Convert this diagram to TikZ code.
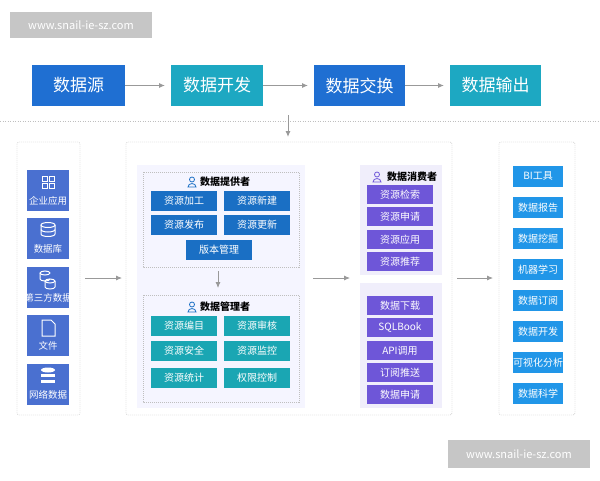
\documentclass[tikz,border=0pt]{standalone}
\usepackage{fontspec}
\setmainfont{Noto Sans CJK SC}
\begin{document}
\begin{tikzpicture}[x=1pt,y=-1pt,
 ar/.style={-{Latex[length=6pt,width=5pt]},gray!80,line width=1pt},
 panel/.style={draw=gray!50,dash pattern=on 1pt off 1pt,rounded corners=2pt},
 top/.style={text=white,font=\fontsize{17}{17}\selectfont,inner sep=0},
 bx/.style={text=white,font=\fontsize{10}{10}\selectfont,inner sep=0},
 hd/.style={font=\fontsize{10}{10}\selectfont\bfseries\itshape,inner sep=0}]
\usetikzlibrary{arrows.meta}
\definecolor{dblue}{HTML}{1F6FD2}\definecolor{teal1}{HTML}{1DA8C2}
\definecolor{prov}{HTML}{1A6FC4}\definecolor{mgr}{HTML}{1AA6B3}
\definecolor{cons}{HTML}{6E56D8}\definecolor{outc}{HTML}{2196E8}
\definecolor{icn}{HTML}{4A70D0}
\useasboundingbox (0,0) rectangle (600,480);
\fill[white] (0,0) rectangle (600,480);
% watermarks
\fill[gray!45] (10,12) rectangle (152,38);
\node[text=white,font=\fontsize{11}{11}\selectfont] (w1) at (81,25) {www.snail-ie-sz.com};
\fill[gray!45] (448,440) rectangle (590,468);
\node[text=white,font=\fontsize{11}{11}\selectfont] (w2) at (519,454) {www.snail-ie-sz.com};
% top row
\fill[dblue] (32,65) rectangle (125,106); \node[top] (t1) at (78.5,85.5) {数据源};
\fill[teal1] (171,65) rectangle (263,106); \node[top] (t2) at (217,85.5) {数据开发};
\fill[dblue] (314,65) rectangle (405,106); \node[top] (t3) at (359.5,85.5) {数据交换};
\fill[teal1] (450,65) rectangle (541,106); \node[top] (t4) at (495.5,85.5) {数据输出};
\coordinate (a1) at (125,85.5);\coordinate (b1) at (165,85.5);
\coordinate (a2) at (263,85.5);\coordinate (b2) at (308,85.5);
\coordinate (a3) at (405,85.5);\coordinate (b3) at (444,85.5);
\draw[ar] (a1)--(b1); \draw[ar] (a2)--(b2); \draw[ar] (a3)--(b3);
\draw[gray!50,dash pattern=on 1pt off 1.5pt] (0,121)--(600,121);
\coordinate (d1) at (288,115);\coordinate (d2) at (288,137);
\draw[ar] (d1)--(d2);
% panels
\draw[panel] (17,142) rectangle (80,415);
\draw[panel] (126,142) rectangle (452,415);
\draw[panel] (499,142) rectangle (575,415);
% left icons
\foreach \y/\t in {170/企业应用,218/数据库,267/第三方数据,315/文件,364/网络数据}{
 \fill[icn] (27,\y) rectangle (69,\y+41);
 \node[text=white,font=\fontsize{9.5}{9.5}\selectfont,inner sep=0] at (48,\y+31) {\t};}
\begin{scope}[white,line width=1pt]
 \foreach \dx in {0,7}{\foreach \ey in {0,7}{\draw (42+\dx,176+\ey) rectangle ++(5,5);}}
 \draw (48,225) ellipse (7 and 2.5); \draw (41,225)--(41,234) arc(180:0:7 and 2.5)--(55,225); \draw (41,229.5) arc(180:0:7 and 2.5);
 \draw (45,273) ellipse (5 and 2); \draw (40,273)--(40,279) arc(180:0:5 and 2); \draw (50,281) ellipse (5 and 2); \draw (45,281)--(45,287) arc(180:0:5 and 2)--(55,281);
 \draw (42,320)--(51,320)--(55,324)--(55,336)--(42,336)--cycle;
\end{scope}
\fill[white] (48,370) ellipse (7 and 2.5); \fill[white] (41,374) rectangle (55,377); \fill[white] (41,380) rectangle (55,383);
% middle
\fill[blue!4] (137,165) rectangle (305,408);
\draw[panel,rounded corners=0] (143,172) rectangle (299,267);
\draw[panel,rounded corners=0] (143,295) rectangle (299,402);
\node[hd] (hp) at (225,182) {数据提供者};
\node[hd] (hm) at (225,307) {数据管理者};
\foreach \px/\py in {192/182,192/307}{
 \draw[prov,line width=0.8pt] (\px,\py-2.5) circle (2.5);
 \draw[prov,line width=0.8pt] (\px-4,\py+5) arc(180:360:4 and 3.5)--cycle;}
\foreach \x/\y/\t in {151/191/资源加工,224/191/资源新建,151/215/资源发布,224/215/资源更新,186/240/版本管理}{
 \fill[prov] (\x,\y) rectangle (\x+66,\y+20); \node[bx] at (\x+33,\y+10) {\t};}
\coordinate (m1) at (218,271);\coordinate (m2) at (218,288);
\draw[ar,line width=0.8pt] (m1)--(m2);
\foreach \x/\y/\t in {151/316/资源编目,224/316/资源审核,151/341/资源安全,224/341/资源监控,151/368/资源统计,224/368/权限控制}{
 \fill[mgr] (\x,\y) rectangle (\x+66,\y+20); \node[bx] at (\x+33,\y+10) {\t};}
\fill[cons!10] (360,165) rectangle (442,275);
\fill[cons!10] (360,283) rectangle (442,408);
\node[hd] (hc) at (412,177) {数据消费者};
\draw[cons,line width=0.8pt] (377,174.5) circle (2.5);
\draw[cons,line width=0.8pt] (373,182) arc(180:360:4 and 3.5)--cycle;
\foreach \y/\t in {185/资源检索,207/资源申请,230/资源应用,252/资源推荐,296/数据下载,318/SQLBook,341/API调用,363/订阅推送,385/数据申请}{
 \fill[cons] (367,\y) rectangle (433,\y+19); \node[bx] at (400,\y+9.5) {\t};}
% right
\foreach \y/\t in {166/BI工具,197/数据报告,228/数据挖掘,259/机器学习,290/数据订阅,321/数据开发,352/可视化分析,383/数据科学}{
 \fill[outc] (513,\y) rectangle (563,\y+20.5); \node[bx] at (538,\y+10.25) {\t};}
\coordinate (l1) at (85,278);\coordinate (l2) at (122,278);
\coordinate (l3) at (313,278);\coordinate (l4) at (350,278);
\coordinate (l5) at (457,278);\coordinate (l6) at (493,278);
\draw[ar,line width=0.8pt] (l1)--(l2); \draw[ar,line width=0.8pt] (l3)--(l4); \draw[ar,line width=0.8pt] (l5)--(l6);
\end{tikzpicture}
\end{document}
